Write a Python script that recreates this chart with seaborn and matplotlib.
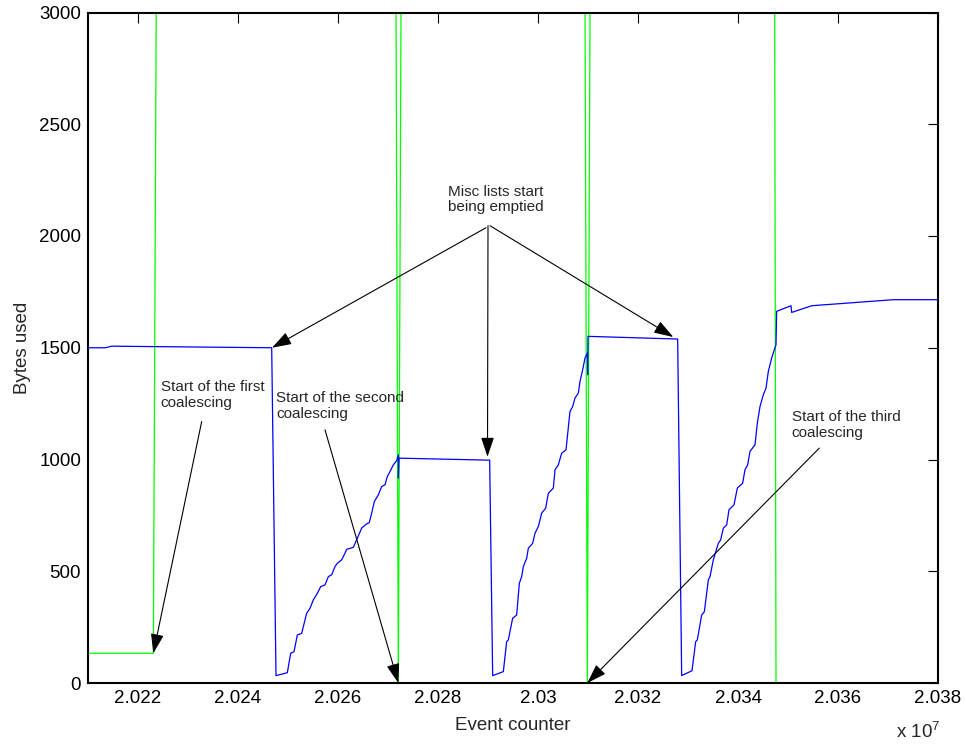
import numpy as np
import pandas as pd
import matplotlib
matplotlib.use("Agg")
import matplotlib.pyplot as plt
from matplotlib.ticker import FuncFormatter, MultipleLocator
import seaborn as sns

# Bytes used in the main heap over time (blue trace)
heap_events = [
    20210000, 20213500, 20214740, 20246740, 20247600, 20249867,
    20250533, 20251200, 20251867, 20252733, 20253733, 20254400, 20255067,
    20255867, 20256533, 20257400, 20258067, 20258733, 20259400, 20259867,
    20260733, 20261400, 20261733, 20263067, 20263867, 20264733, 20265733,
    20266267, 20266733, 20267267, 20268067, 20268733, 20269400, 20269867,
    20270400, 20271067, 20271733, 20272067, 20272067, 20272200,
    20290333, 20290933, 20293067,
    20293733, 20294067, 20294933, 20295733, 20296267, 20296733, 20297067,
    20297733, 20298067, 20298933, 20299400, 20300067, 20300733, 20301533,
    20302067, 20303067, 20303400, 20304067, 20304733, 20305600, 20306400,
    20306933, 20307400, 20308067, 20308400, 20308933, 20309400, 20309867,
    20309933, 20310000,
    20327933, 20328733, 20330800,
    20331533, 20331867, 20332733, 20333267, 20334067, 20334400, 20335067,
    20336067, 20336533, 20337067, 20337733, 20338200, 20339200, 20339867,
    20340933, 20341400, 20341933, 20342400, 20343400, 20343867, 20344400,
    20345067, 20345600, 20346067, 20346733, 20347267, 20347600,
    20347733, 20350600, 20350733, 20354733, 20371067, 20380000,
]
heap_bytes = [
    1500, 1500, 1507, 1500, 33, 46,
    133, 140, 215, 222, 312, 334, 372,
    401, 431, 439, 476, 484, 521, 536,
    551, 581, 598, 607, 648, 693, 712,
    718, 760, 812, 842, 879, 887, 924,
    946, 976, 995, 1021, 917, 1006,
    997, 33, 51,
    185, 193, 290, 304, 446, 476, 521,
    558, 603, 625, 670, 700, 760, 782,
    849, 872, 954, 976, 1028, 1043, 1215,
    1237, 1275, 1297, 1349, 1401, 1454, 1476,
    1379, 1551,
    1539, 33, 55,
    185, 193, 304, 319, 461, 476, 551,
    625, 640, 693, 707, 775, 797, 872,
    894, 954, 976, 1036, 1066, 1163, 1237,
    1290, 1319, 1394, 1454, 1491, 1513,
    1663, 1688, 1658, 1688, 1715, 1715,
]

# Bytes held in the misc lists (green trace); it leaves the plotted range
misc_events = [20210000, 20223067, 20233067, 20264400, 20272067, 20280933,
               20302200, 20309867, 20318800, 20343200, 20347600, 20380000]
misc_bytes = [133, 133, 50000, 50000, 0, 50000,
              50000, 0, 50000, 50000, 0, 0]

x_ticks = [20220000, 20240000, 20260000, 20280000, 20300000,
           20320000, 20340000, 20360000, 20380000]
y_ticks = [0, 500, 1000, 1500, 2000, 2500, 3000]

heap = pd.DataFrame({"event": heap_events, "bytes": heap_bytes})
misc = pd.DataFrame({"event": misc_events, "bytes": misc_bytes})

sns.set_style("white")
plt.rcParams["font.family"] = ["Liberation Sans", "DejaVu Sans"]
plt.rcParams["mathtext.fontset"] = "custom"
plt.rcParams["mathtext.rm"] = "Liberation Sans"
plt.rcParams["mathtext.it"] = "Liberation Sans:italic"

fig = plt.figure(figsize=(9.66, 7.44), dpi=100)
ax = fig.add_axes([88 / 966, 1 - 683 / 744, 850 / 966, 670.5 / 744])

sns.lineplot(data=misc, x="event", y="bytes", ax=ax, color="#00ff00",
             linewidth=0.9, sort=False, estimator=None)
sns.lineplot(data=heap, x="event", y="bytes", ax=ax, color="#0000ff",
             linewidth=0.9, sort=False, estimator=None)

ax.set_xlim(20210000, 20380000)
ax.set_ylim(0, 3000)
ax.set_xticks(x_ticks)
ax.set_yticks(y_ticks)
ax.xaxis.set_major_formatter(FuncFormatter(lambda v, p: f"{round(v / 1e7, 4):g}"))
ax.tick_params(direction="in", top=True, right=True, length=7, width=0.8,
               labelsize=13.5, pad=5, colors="black")
for s in ax.spines.values():
    s.set_visible(True)
    s.set_color("black")
    s.set_linewidth(1.5)
    s.set_zorder(5)

ax.set_xlabel("Event counter", fontsize=13.5, labelpad=7)
ax.set_ylabel("Bytes used", fontsize=13.5, labelpad=6)
fig.text(896 / 966, 1 - 742 / 744, r"x 10$^{7}$", fontsize=13.5,
         ha="left", va="bottom")

arrow = dict(arrowstyle="-|>,head_length=1.2,head_width=0.4", color="black",
             lw=0.8, shrinkA=0, shrinkB=0, mutation_scale=10)
note_font = dict(fontsize=11, ha="left", va="top", linespacing=1.15)

# Misc lists being emptied: one label, three arrows
ax.text(20282000, 2229, "Misc lists start\nbeing emptied", **note_font)
ax.annotate("", xy=(20246800, 1500), xytext=(20289600, 2037), arrowprops=arrow)
ax.annotate("", xy=(20289900, 1012), xytext=(20290000, 2046), arrowprops=arrow)
ax.annotate("", xy=(20327060, 1548), xytext=(20290400, 2046), arrowprops=arrow)

# Coalescing starts
ax.text(20224540, 1355, "Start of the first\ncoalescing", **note_font)
ax.annotate("", xy=(20223067, 133), xytext=(20232740, 1170), arrowprops=arrow)

ax.text(20247600, 1306, "Start of the second\ncoalescing", **note_font)
ax.annotate("", xy=(20272067, 0), xytext=(20257400, 1133), arrowprops=arrow)

ax.text(20350740, 1221, "Start of the third\ncoalescing", **note_font)
ax.annotate("", xy=(20309867, 0), xytext=(20356260, 1051), arrowprops=arrow)

fig.savefig("out.png", dpi=100)
